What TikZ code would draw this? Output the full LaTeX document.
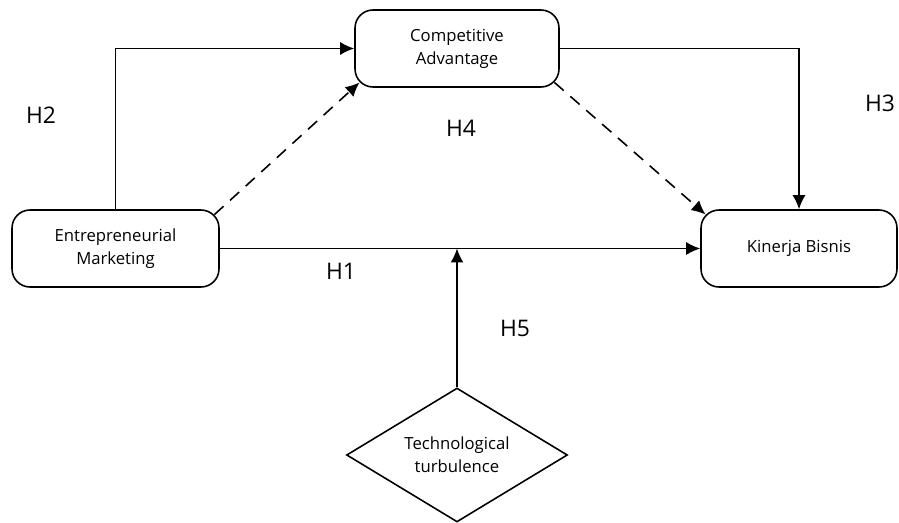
\documentclass[tikz,border=0pt]{standalone}
\usepackage{fontspec}
\setmainfont{Open Sans}
\usepackage{tikz}
\usetikzlibrary{calc}
\usetikzlibrary{arrows.meta}
\usetikzlibrary{shapes.geometric}

\begin{document}
\begin{tikzpicture}[x=0.02cm,y=-0.02cm,line width=0.9pt,>={Latex[length=0.28cm,width=0.26cm]},
	box/.style={draw,rounded corners=0.36cm,minimum height=1.54cm,align=center,
		font=\fontsize{9.5}{13}\selectfont},
	hyp/.style={font=\fontsize{13}{15}\selectfont},
	dashline/.style={dash pattern=on 7pt off 5pt}]
	\useasboundingbox (0,0) rectangle (899,523);
	% variables
	\node[box,minimum width=4.14cm] (em) at (115.5,248.5) {Entrepreneurial\\Marketing};
	\node[box,minimum width=4.08cm] (ca) at (457,48.5) {Competitive\\Advantage};
	\node[box,minimum width=3.92cm] (kb) at (799,248.5) {Kinerja Bisnis};
	\node[draw,diamond,aspect=1.65,minimum width=4.42cm,minimum height=2.68cm,inner sep=0pt,
		align=center,font=\fontsize{9.5}{13}\selectfont] (tt) at (457,455) {Technological\\turbulence};
	% paths
	\draw[->] (em.north) |- (ca.west);
	\draw[->] (ca.east) -| (kb.north);
	\draw[->] (em.east) -- (kb.west);
	\draw[->,dashline] ($(em.north east)+(-5.3,5.3)$) -- ($(ca.south west)+(5.3,-5.3)$);
	\draw[->,dashline] ($(ca.south east)+(-5.3,-5.3)$) -- ($(kb.north west)+(5.3,5.3)$);
	\coordinate (mod) at (tt.north |- em.east);
	\draw[->] (tt.north) -- (mod);
	% hypotheses
	\node[hyp] (h1) at (341,271) {H1};
	\node[hyp] (h2) at (41,115) {H2};
	\node[hyp] (h3) at (880,103) {H3};
	\node[hyp] (h4) at (461,128) {H4};
	\node[hyp] (h5) at (515,328) {H5};
\end{tikzpicture}
\end{document}
